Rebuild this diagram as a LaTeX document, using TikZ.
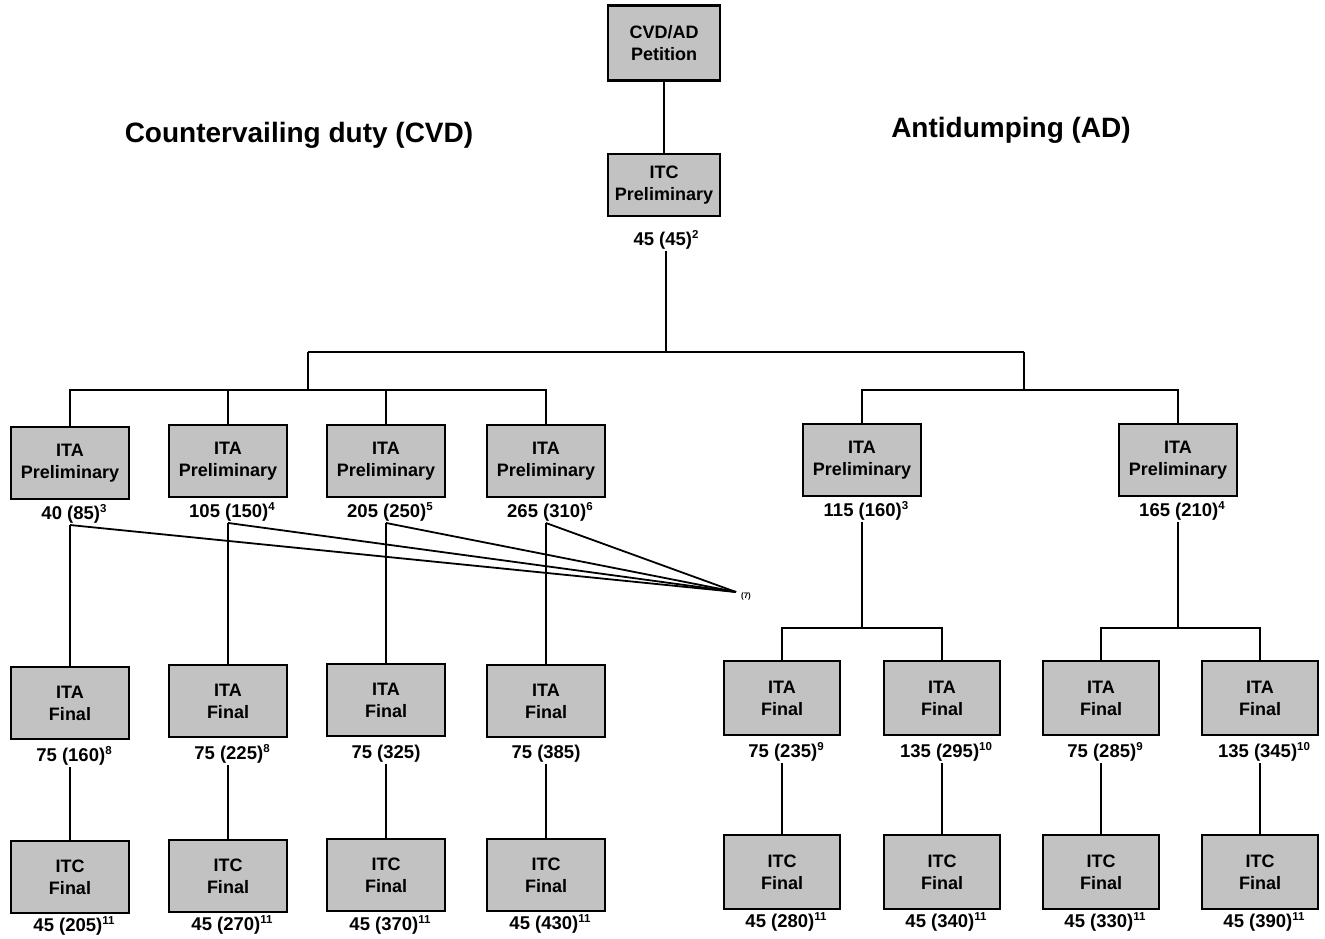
\documentclass[tikz,border=0pt]{standalone}
\usepackage{fontspec}
\setmainfont{Liberation Sans}
\newcommand\supnum[1]{\raisebox{0.42em}{\fontsize{11.5}{12}\selectfont #1}}
\begin{document}
\begin{tikzpicture}[x=1pt,y=-1pt,
  box/.style={draw=black, line width=2.4pt, fill=black!24, minimum width=118pt, minimum height=72pt, align=center, inner sep=0pt, font=\fontsize{18}{22}\selectfont\bfseries},
  lab/.style={font=\fontsize{18.5}{20}\selectfont\bfseries, inner sep=1pt},
  conn/.style={line width=1.8pt},
  head/.style={font=\fontsize{28}{32}\selectfont\bfseries, inner sep=0pt}]
\useasboundingbox (0,0) rectangle (1325,939);

% headings
\node[head] (hcvd) at (299,135) {Countervailing duty (CVD)};
\node[head] (had) at (1011,130) {Antidumping (AD)};

% top
\node[box, minimum width=112pt, minimum height=75pt] (pet) at (664,43) {CVD/AD\\Petition};
\node[box, minimum width=112pt, minimum height=62pt] (itcp) at (664,185) {ITC\\Preliminary};
\node[lab] (litcp) at (666,240) {45 (45)\supnum{2}};
\draw[conn] (pet) -- (itcp);

\coordinate (j0) at (666,352);
\coordinate (jc) at (308,352);
\coordinate (ja) at (1024,352);
\coordinate (jc2) at (308,390);
\coordinate (ja2) at (1024,390);
\coordinate (y628) at (0,628);
\draw[conn] (litcp.south -| j0) -- (j0);
\draw[conn] (jc) -- (ja);
\draw[conn] (jc) -- (jc2);
\draw[conn] (ja) -- (ja2);

% CVD row 2
\node[box] (cp1) at (70,463) {ITA\\Preliminary};
\node[box] (cp2) at (228,461) {ITA\\Preliminary};
\node[box] (cp3) at (386,461) {ITA\\Preliminary};
\node[box] (cp4) at (546,461) {ITA\\Preliminary};
\node[lab] (lcp1) at (74,514) {40 (85)\supnum{3}};
\node[lab] (lcp2) at (232,512) {105 (150)\supnum{4}};
\node[lab] (lcp3) at (390,512) {205 (250)\supnum{5}};
\node[lab] (lcp4) at (550,512) {265 (310)\supnum{6}};
\foreach \n in {cp1,cp2,cp3,cp4} \draw[conn] (\n.north) |- (jc2);

% fan to (7)
\coordinate (f7) at (736,592);
\node[font=\fontsize{8}{9}\selectfont\bfseries, inner sep=0pt] (n7) at (746,596) {(7)};

% CVD row 3
\node[box] (cf1) at (70,703) {ITA\\Final};
\node[box] (cf2) at (228,701) {ITA\\Final};
\node[box] (cf3) at (386,700) {ITA\\Final};
\node[box] (cf4) at (546,701) {ITA\\Final};
\node[lab] (lcf1) at (74,756) {75 (160)\supnum{8}};
\node[lab] (lcf2) at (232,754) {75 (225)\supnum{8}};
\node[lab] (lcf3) at (386,754) {75 (325)};
\node[lab] (lcf4) at (546,754) {75 (385)};

\foreach \l/\b/\c in {lcp1/cp1/cf1,lcp2/cp2/cf2,lcp3/cp3/cf3,lcp4/cp4/cf4}{
  \draw[conn] (\l.south -| \b) -- (\c.north);
  \draw[conn] (\l.south -| \b) -- (f7);
}

% CVD row 4
\node[box] (ct1) at (70,877) {ITC\\Final};
\node[box] (ct2) at (228,876) {ITC\\Final};
\node[box] (ct3) at (386,875) {ITC\\Final};
\node[box] (ct4) at (546,875) {ITC\\Final};
\node[lab] (lct1) at (74,926) {45 (205)\supnum{11}};
\node[lab] (lct2) at (232,925) {45 (270)\supnum{11}};
\node[lab] (lct3) at (390,925) {45 (370)\supnum{11}};
\node[lab] (lct4) at (550,924) {45 (430)\supnum{11}};
\foreach \l/\b/\c in {lcf1/cf1/ct1,lcf2/cf2/ct2,lcf3/cf3/ct3,lcf4/cf4/ct4}
  \draw[conn] (\l.south -| \b) -- (\c.north);

% AD row 2
\node[box] (ap1) at (862,460) {ITA\\Preliminary};
\node[box] (ap2) at (1178,460) {ITA\\Preliminary};
\node[lab] (lap1) at (866,511) {115 (160)\supnum{3}};
\node[lab] (lap2) at (1182,511) {165 (210)\supnum{4}};
\draw[conn] (ap1.north) |- (ja2);
\draw[conn] (ap2.north) |- (ja2);
\draw[conn] (lap1.south -| ap1) -- (ap1 |- y628) coordinate (jb1);
\draw[conn] (lap2.south -| ap2) -- (ap2 |- y628) coordinate (jb2);

% AD row 3
\node[box, minimum width=116pt, minimum height=74pt] (af1) at (782,698) {ITA\\Final};
\node[box, minimum width=116pt, minimum height=74pt] (af2) at (942,698) {ITA\\Final};
\node[box, minimum width=116pt, minimum height=74pt] (af3) at (1101,698) {ITA\\Final};
\node[box, minimum width=116pt, minimum height=74pt] (af4) at (1260,698) {ITA\\Final};
\draw[conn] (af1.north) |- (jb1);
\draw[conn] (af2.north) |- (jb1);
\draw[conn] (af3.north) |- (jb2);
\draw[conn] (af4.north) |- (jb2);
\node[lab] (laf1) at (786,752) {75 (235)\supnum{9}};
\node[lab] (laf2) at (946,752) {135 (295)\supnum{10}};
\node[lab] (laf3) at (1105,752) {75 (285)\supnum{9}};
\node[lab] (laf4) at (1264,752) {135 (345)\supnum{10}};

% AD row 4
\node[box, minimum width=116pt, minimum height=74pt] (at1) at (782,872) {ITC\\Final};
\node[box, minimum width=116pt, minimum height=74pt] (at2) at (942,872) {ITC\\Final};
\node[box, minimum width=116pt, minimum height=74pt] (at3) at (1101,872) {ITC\\Final};
\node[box, minimum width=116pt, minimum height=74pt] (at4) at (1260,872) {ITC\\Final};
\node[lab] (lat1) at (786,922) {45 (280)\supnum{11}};
\node[lab] (lat2) at (946,922) {45 (340)\supnum{11}};
\node[lab] (lat3) at (1105,922) {45 (330)\supnum{11}};
\node[lab] (lat4) at (1264,922) {45 (390)\supnum{11}};
\foreach \l/\b/\c in {laf1/af1/at1,laf2/af2/at2,laf3/af3/at3,laf4/af4/at4}
  \draw[conn] (\l.south -| \b) -- (\c.north);
\end{tikzpicture}
\end{document}
